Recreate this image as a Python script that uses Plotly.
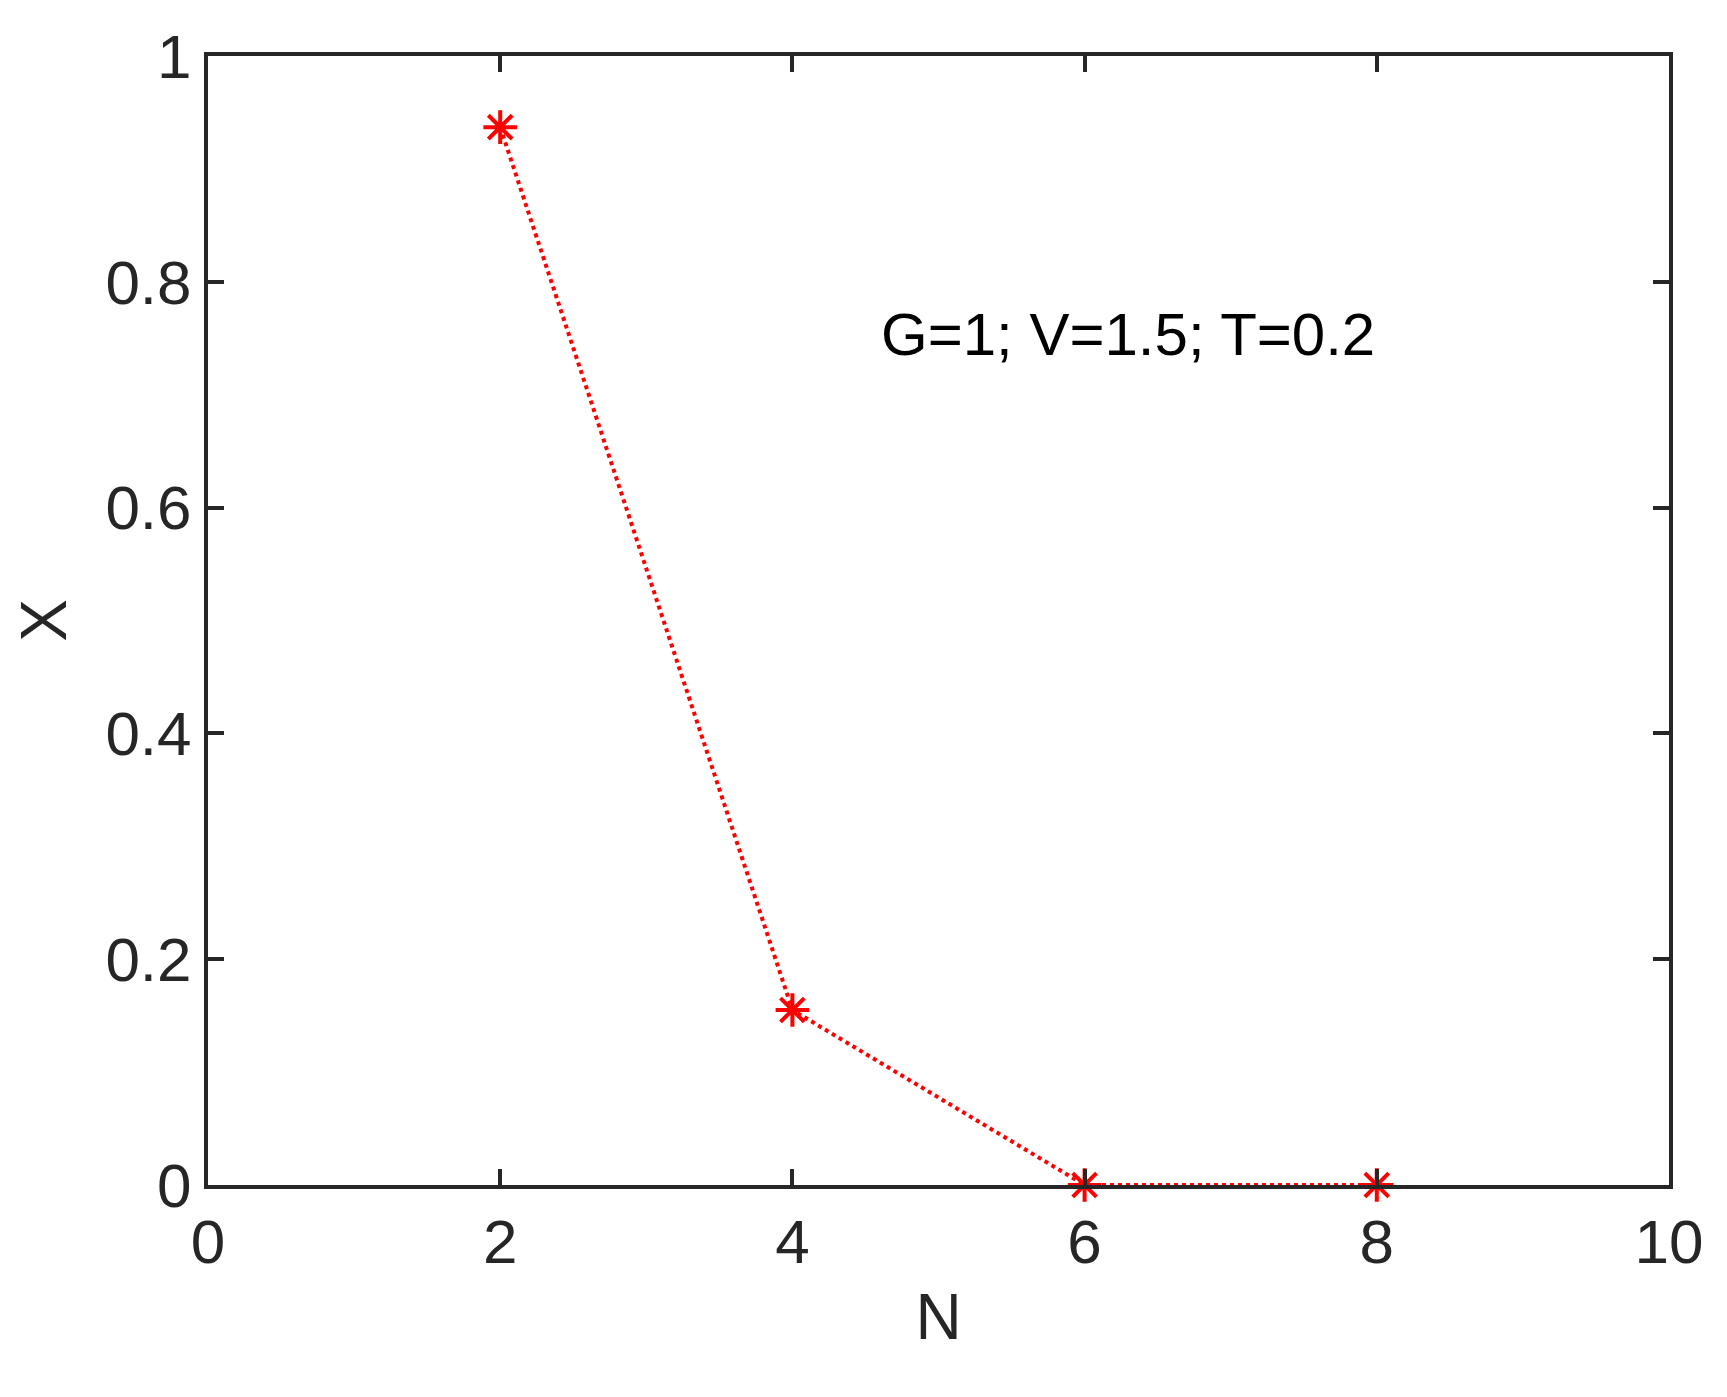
import plotly.graph_objects as go

N = [2, 4, 6, 8]
X = [0.937, 0.155, 0.0, 0.0]
x_ticks = [0, 2, 4, 6, 8, 10]
y_ticks = [0, 0.2, 0.4, 0.6, 0.8, 1]
y_labels = ["0", "0.2", "0.4", "0.6", "0.8", "1"]

fig = go.Figure()
fig.add_trace(go.Scatter(x=N, y=X, mode="lines+markers",
    line=dict(color="red", dash="dot", width=4),
    marker=dict(symbol="asterisk", size=28, color="red", line=dict(color="red", width=4)),
    cliponaxis=False))
fig.add_annotation(x=6.3, y=0.753, text="G=1; V=1.5; T=0.2", showarrow=False,
    font=dict(size=60, color="#000000", family="Liberation Sans, Arial"))
ax = dict(showgrid=False, zeroline=False, showline=True, linecolor="#262626", linewidth=4,
    mirror="ticks", ticks="inside", ticklen=16, tickwidth=4, tickcolor="#262626",
    tickfont=dict(size=62, color="#262626"), title_font=dict(size=64, color="#262626"))
fig.update_xaxes(range=[0, 10], tickvals=x_ticks, title_text="N", title_standoff=20, **ax)
fig.update_yaxes(range=[0, 1], tickvals=y_ticks, ticktext=y_labels, title_text="X", title_standoff=30, **ax)
fig.update_layout(width=1727, height=1397, plot_bgcolor="white", paper_bgcolor="white",
    showlegend=False, font=dict(family="Liberation Sans, Arial"),
    margin=dict(l=200, r=66, t=48, b=220))
fig.write_html("out.html")
